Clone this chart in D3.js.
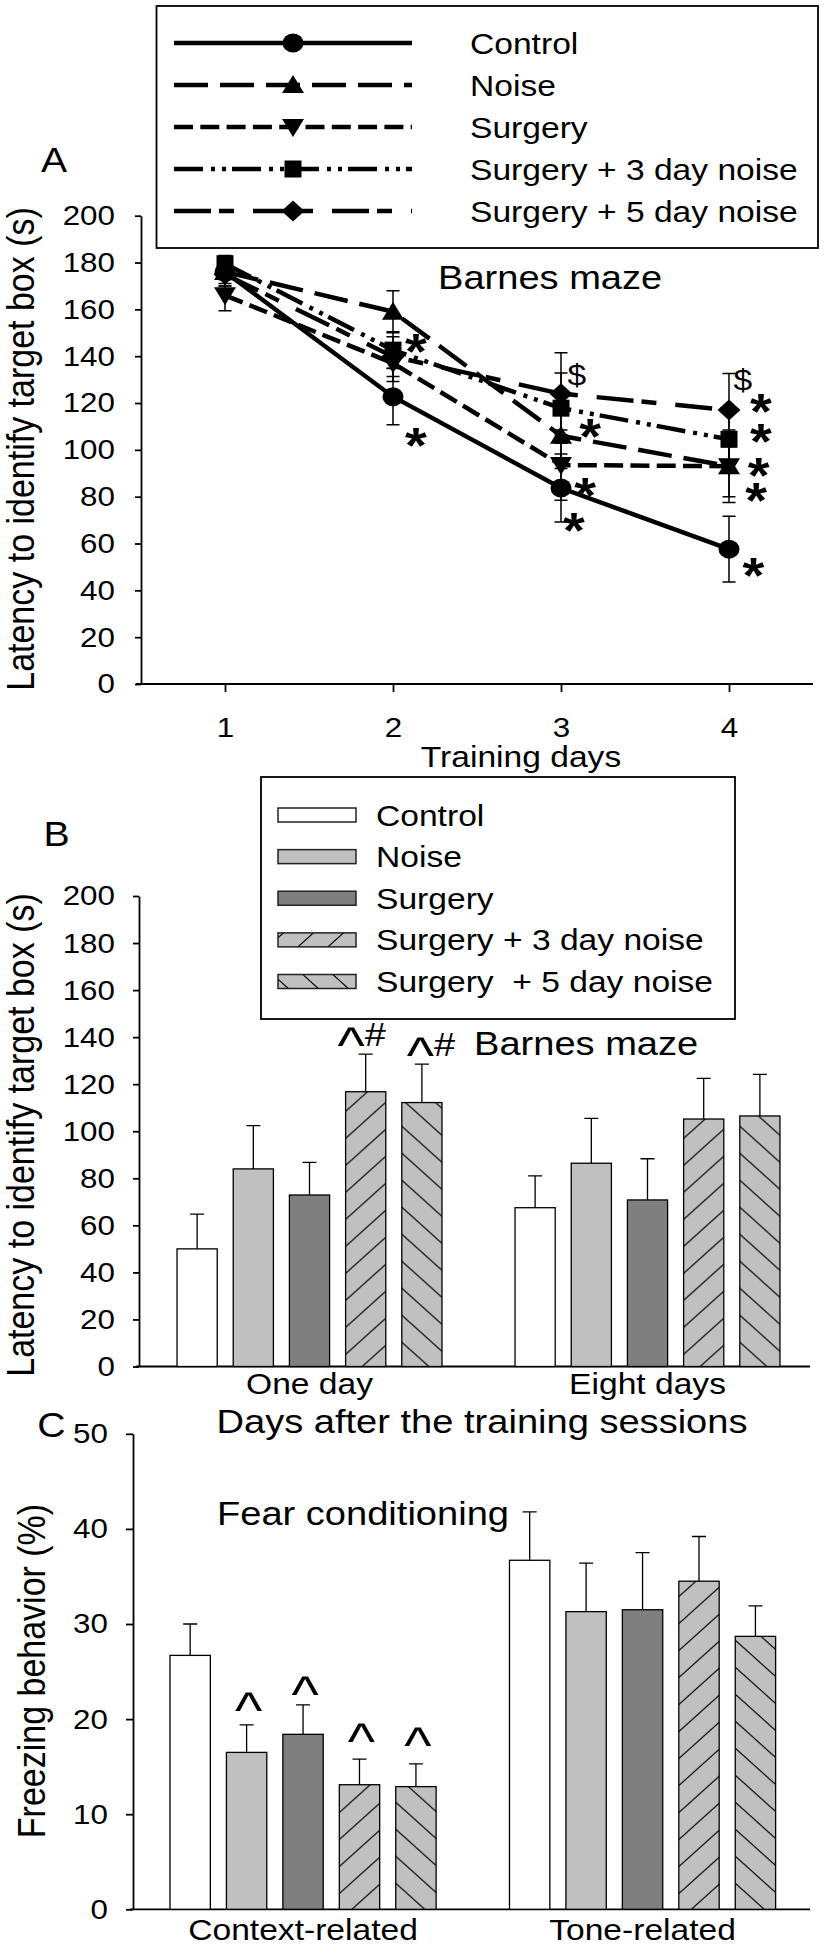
<!DOCTYPE html>
<html><head><meta charset="utf-8">
<script src="https://cdn.jsdelivr.net/npm/d3@7/dist/d3.min.js"></script>
<style>
html,body{margin:0;padding:0;background:#fff;}
svg{display:block;}
</style></head><body>
<svg id="chart" width="826" height="1950"></svg>
<script>
// ---------------- DATA ----------------
const seriesNames = ["Control", "Noise", "Surgery", "Surgery + 3 day noise", "Surgery + 5 day noise"];
const legendNamesB = ["Control", "Noise", "Surgery", "Surgery + 3 day noise", "Surgery  + 5 day noise"];

// Panel A: latency per training day (mean, SEM)
const trainingDays = [1, 2, 3, 4];
const controlA = [176, 122.7, 83.7, 57.6];
const controlAErr = [6, 12, 14.5, 14];
const noiseA = [176, 159, 106, 93];
const noiseAErr = [5, 9, 14, 13];
const surgeryA = [166, 137, 93.5, 93];
const surgeryAErr = [6.6, 7.8, 15, 15.5];
const surg3A = [179.5, 142.6, 117.8, 104.5];
const surg3AErr = [3.5, 7.8, 15, 13];
const surg5A = [175, 139.8, 124, 117];
const surg5AErr = [5, 8.5, 17.5, 15.6];
const yTicksA = [0, 20, 40, 60, 80, 100, 120, 140, 160, 180, 200];
// significance marks in panel A (day / value position)
const marksA = [
  {day: 2.137, v: 146.2, t: "*"}, {day: 2.137, v: 106.3, t: "*"},
  {day: 3.173, v: 109.9, t: "*"}, {day: 3.143, v: 85.0, t: "*"}, {day: 3.077, v: 70.0, t: "*"},
  {day: 4.19, v: 120.6, t: "*"}, {day: 4.19, v: 107.8, t: "*"}, {day: 4.177, v: 93.5, t: "*"},
  {day: 4.161, v: 82.9, t: "*"}, {day: 4.145, v: 50.8, t: "*"}
];
const dollarA = [{day: 3.095, v: 132}, {day: 4.083, v: 129.8}];

// Panel B: latency one day / eight days after training
const groupsB = ["One day", "Eight days"];
const oneDayB = [50, 84, 72.9, 116.8, 112.2];
const oneDayBErr = [14.8, 18.4, 13.9, 16, 16.3];
const eightDaysB = [67.5, 86.4, 70.8, 105.2, 106.5];
const eightDaysBErr = [13.5, 19.1, 17.5, 17.3, 17.7];
const yTicksB = [0, 20, 40, 60, 80, 100, 120, 140, 160, 180, 200];
const marksB = [{group: "One day", s: 3, t: "^#", dx: -4}, {group: "One day", s: 4, t: "^#", dx: 9}];

// Panel C: freezing behaviour
const groupsC = ["Context-related", "Tone-related"];
const contextC = [26.7, 16.5, 18.4, 13.1, 12.9];
const contextCErr = [3.3, 2.9, 3.1, 2.7, 2.4];
const toneC = [36.7, 31.3, 31.5, 34.5, 28.7];
const toneCErr = [5.1, 5.1, 6.0, 4.7, 3.2];
const yTicksC = [0, 10, 20, 30, 40, 50];
const marksC = [{group: "Context-related", s: 1, at: 20.8}, {group: "Context-related", s: 2, at: 22.5},
                {group: "Context-related", s: 3, at: 17.6}, {group: "Context-related", s: 4, at: 17.2}];

// ---------------- STYLE ----------------
const SX = 1.12;
const FONT = "'Liberation Sans', Arial, Helvetica, sans-serif";
const dashes = ["", "34,12", "19,7.3", "29,8,4,7,4,6", "37,8,15,19"];
const markerPaths = [
  "M-10.5,0A10.5,9.5 0 1,0 10.5,0A10.5,9.5 0 1,0 -10.5,0Z",
  "M0,-10L11,8L-11,8Z",
  "M0,10L11,-8L-11,-8Z",
  "M-8.5,-8.5H8.5V8.5H-8.5Z",
  "M0,-10.5L11.5,0L0,10.5L-11.5,0Z"
];
const fills = ["#ffffff", "#c0c0c0", "#7f7f7f", "url(#hatchF)", "url(#hatchB)"];

const svg = d3.select("#chart").attr("font-family", FONT);
svg.append("rect").attr("width", 826).attr("height", 1950).attr("fill", "#fff");
const defs = svg.append("defs");
function hatch(id, fwd) {
  const p = defs.append("pattern").attr("id", id).attr("patternUnits", "userSpaceOnUse")
    .attr("width", 30).attr("height", 27);
  p.append("rect").attr("width", 30).attr("height", 27).attr("fill", "#c0c0c0");
  p.append("path").attr("d", fwd ? "M-3,2.7L3,-2.7M0,27L30,0M27,29.7L33,24.3" : "M-3,24.3L3,29.7M0,0L30,27M27,-2.7L33,2.7")
    .attr("stroke", "#000").attr("stroke-width", 1.2).attr("fill", "none");
}
hatch("hatchF", true);
hatch("hatchB", false);

function label(g, x, y, s, size, anchor, opts = {}) {
  const t = g.append("text")
    .attr("transform", opts.rot ? `translate(${x},${y}) rotate(-90) scale(1,${SX})` : `translate(${x},${y}) scale(${SX},1)`)
    .attr("font-size", size).attr("text-anchor", anchor || "start").attr("fill", "#000")
    .style("white-space", "pre").text(s);
  if (opts.bold) t.attr("font-weight", "bold");
  return t;
}
function styleAxis(ax, size) {
  ax.attr("font-family", FONT).attr("font-size", size);
  ax.selectAll("path,line").attr("stroke", "#000").attr("stroke-width", 1.8);
  ax.selectAll("text").attr("fill", "#000").each(function () {
    const t = d3.select(this);
    const tx = +t.attr("x") || 0, ty = +t.attr("y") || 0;
    t.attr("x", null).attr("y", null).attr("transform", `translate(${tx},${ty}) scale(${SX},1)`);
  });
}

// ================= PANEL A =================
const xA = d3.scaleLinear().domain([0.5, 4.5]).range([141, 813]);
const yA = d3.scaleLinear().domain([0, 200]).range([684, 215.7]);
const gA = svg.append("g");
const seriesA = [
  {vals: controlA, errs: controlAErr}, {vals: noiseA, errs: noiseAErr}, {vals: surgeryA, errs: surgeryAErr},
  {vals: surg3A, errs: surg3AErr}, {vals: surg5A, errs: surg5AErr}
];

const axYA = gA.append("g").attr("transform", "translate(141,0)")
  .call(d3.axisLeft(yA).tickValues(yTicksA).tickSize(6).tickPadding(20).tickSizeOuter(0));
styleAxis(axYA, 28);
const axXA = gA.append("g").attr("transform", "translate(0,684)")
  .call(d3.axisBottom(xA).tickValues(trainingDays).tickSize(8).tickSizeOuter(0).tickFormat(d3.format("d")));
axXA.selectAll("text").attr("y", 53).attr("dy", null);
styleAxis(axXA, 28);
axXA.select(".domain").attr("d", "M136,0H813");

const line = d3.line().x((v, i) => xA(trainingDays[i])).y(v => yA(v));
// lines
seriesA.forEach((s, k) => {
  gA.append("path").attr("d", line(s.vals)).attr("fill", "none").attr("stroke", "#000")
    .attr("stroke-width", 4.5).attr("stroke-dasharray", dashes[k] || null);
});
// error bars
seriesA.forEach((s) => {
  s.vals.forEach((v, i) => {
    const x = xA(trainingDays[i]), y1 = yA(v - s.errs[i]), y2 = yA(v + s.errs[i]);
    gA.append("path").attr("d", `M${x},${y1}V${y2}M${x - 6.5},${y1}H${x + 6.5}M${x - 6.5},${y2}H${x + 6.5}`)
      .attr("stroke", "#000").attr("stroke-width", 1.5).attr("fill", "none");
  });
});
// markers
seriesA.forEach((s, k) => {
  gA.selectAll(null).data(s.vals).enter().append("path")
    .attr("d", markerPaths[k]).attr("fill", "#000")
    .attr("transform", (v, i) => `translate(${xA(trainingDays[i])},${yA(v)})`);
});
// marks
marksA.forEach(m => label(gA, xA(m.day), yA(m.v) + 0.554 * 50, m.t, 50, "middle", {bold: true}));
dollarA.forEach(m => label(gA, xA(m.day), yA(m.v) + 10, "$", 30, "middle"));

label(gA, 438, 289, "Barnes maze", 34, "start");
label(gA, 521, 767, "Training days", 30, "middle");
label(gA, 34, 449, "Latency to identify target box (s)", 34, "middle", {rot: true});
label(gA, 54, 172, "A", 35, "middle");

// legend A
const legA = gA.append("g");
legA.append("rect").attr("x", 156.5).attr("y", 6).attr("width", 661.5).attr("height", 242)
  .attr("fill", "#fff").attr("stroke", "#000").attr("stroke-width", 1.8);
const legRowsA = d3.scalePoint().domain(seriesNames).range([43, 211]);
seriesNames.forEach((n, k) => {
  const y = legRowsA(n);
  legA.append("path").attr("d", `M174,${y}H412`).attr("stroke", "#000").attr("stroke-width", 4.5)
    .attr("stroke-dasharray", dashes[k] || null).attr("fill", "none");
  legA.append("path").attr("d", markerPaths[k]).attr("fill", "#000").attr("transform", `translate(293,${y})`);
  label(legA, 470, y + 10.5, n, 30, "start");
});

// ================= bar panels =================
function barPanel(cfg) {
  const g = svg.append("g");
  const x0 = d3.scaleBand().domain(cfg.groups).range(cfg.xr);
  const x1 = d3.scaleBand().domain(d3.range(seriesNames.length)).range([0, x0.bandwidth()])
    .paddingInner(0.285).paddingOuter(0.65);
  const y = d3.scaleLinear().domain(cfg.yd).range(cfg.yr);
  const axY = g.append("g").attr("transform", `translate(${cfg.spine},0)`)
    .call(d3.axisLeft(y).tickValues(cfg.ticks).tickSize(cfg.tick).tickPadding(18).tickSizeOuter(0));
  styleAxis(axY, 28);
  const axX = g.append("g").attr("transform", `translate(0,${cfg.yr[0]})`)
    .call(d3.axisBottom(x0).tickSize(0).tickSizeOuter(0));
  axX.selectAll("text").attr("y", cfg.labOff).attr("dy", null);
  styleAxis(axX, 30);
  axX.select(".domain").attr("d", `M${cfg.spine - 3},0H810`);
  cfg.groups.forEach((grp, gi) => {
    const vals = cfg.vals[gi], errs = cfg.errs[gi];
    const gg = g.append("g").attr("transform", `translate(${x0(grp)},0)`);
    gg.selectAll("rect").data(vals).enter().append("rect")
      .attr("x", (v, i) => x1(i)).attr("width", x1.bandwidth())
      .attr("y", v => y(v)).attr("height", v => y(0) - y(v))
      .attr("fill", (v, i) => fills[i]).attr("stroke", "#000").attr("stroke-width", 1.3);
    gg.selectAll("path.err").data(vals).enter().append("path").attr("class", "err")
      .attr("d", (v, i) => {
        const cx = x1(i) + x1.bandwidth() / 2, ya = y(v), yb = y(v + errs[i]);
        return `M${cx},${ya}V${yb}M${cx - 7},${yb}H${cx + 7}`;
      }).attr("stroke", "#000").attr("stroke-width", 1.3).attr("fill", "none");
  });
  return {g, x0, x1, y};
}

// ================= PANEL B =================
const B = barPanel({
  groups: groupsB, xr: [140.5, 816.5], yd: [0, 200], yr: [1366.5, 896], spine: 139, tick: 6,
  ticks: yTicksB, labOff: 27.5, vals: [oneDayB, eightDaysB], errs: [oneDayBErr, eightDaysBErr]
});
marksB.forEach(m => {
  const gi = groupsB.indexOf(m.group);
  const vals = [oneDayB, eightDaysB][gi], errs = [oneDayBErr, eightDaysBErr][gi];
  const cx = B.x0(m.group) + B.x1(m.s) + B.x1.bandwidth() / 2 + m.dx;
  const by = B.y(vals[m.s] + errs[m.s]) - 8;
  const t = B.g.append("text").attr("transform", `translate(${cx},${by}) scale(${SX},1)`)
    .attr("text-anchor", "middle").attr("font-size", 34).attr("fill", "#000");
  t.append("tspan").attr("font-size", 52).attr("dy", 17).text("^");
  t.append("tspan").attr("dy", -17).text("#");
});
label(B.g, 474, 1055, "Barnes maze", 34, "start");
label(B.g, 34, 1135, "Latency to identify target box (s)", 34, "middle", {rot: true});
label(B.g, 56.5, 846, "B", 35, "middle");
label(B.g, 482, 1433, "Days after the training sessions", 34, "middle");
// legend B
const legB = B.g.append("g");
legB.append("rect").attr("x", 261).attr("y", 777).attr("width", 474).attr("height", 242)
  .attr("fill", "#fff").attr("stroke", "#000").attr("stroke-width", 1.8);
const legRowsB = d3.scalePoint().domain(legendNamesB).range([815, 981.5]);
legendNamesB.forEach((n, k) => {
  const y = legRowsB(n);
  legB.append("rect").attr("x", 278).attr("y", y - 7).attr("width", 78).attr("height", 14)
    .attr("fill", fills[k]).attr("stroke", "#222").attr("stroke-width", 1.5);
  label(legB, 376, y + 10.5, n, 30, "start");
});

// ================= PANEL C =================
const C = barPanel({
  groups: groupsC, xr: [133.3, 812.3], yd: [0, 50], yr: [1909.3, 1433.8], spine: 133, tick: 7,
  ticks: yTicksC, labOff: 30.7, vals: [contextC, toneC], errs: [contextCErr, toneCErr]
});
marksC.forEach(m => {
  const cx = C.x0(m.group) + C.x1(m.s) + C.x1.bandwidth() / 2 + 2;
  label(C.g, cx, C.y(m.at) + 17, "^", 52, "middle");
});
label(C.g, 217, 1525, "Fear conditioning", 34, "start");
label(C.g, 45, 1671, "Freezing behavior (%)", 34, "middle", {rot: true});
label(C.g, 51.5, 1437, "C", 35, "middle");
</script>
</body></html>
